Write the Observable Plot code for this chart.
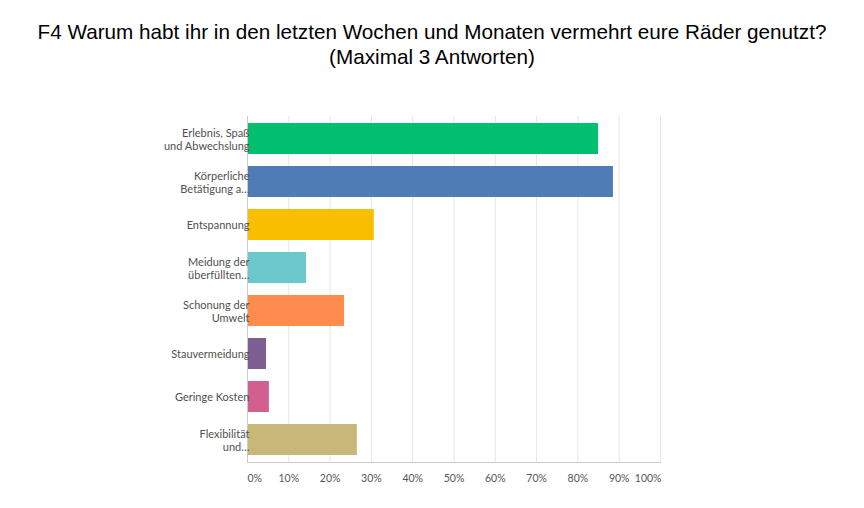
<!DOCTYPE html>
<html>
<head>
<meta charset="utf-8">
<script src="https://cdn.jsdelivr.net/npm/d3@7"></script>
<script src="https://cdn.jsdelivr.net/npm/@observablehq/plot@0.6"></script>
<style>
  body { margin: 0; background: #fff; }
  #title { height: 80px; box-sizing: border-box; padding-top: 19px; text-align: center;
    font-family: "Liberation Sans", Arial, sans-serif; font-size: 20.7px; line-height: 25px; color: #000; }
</style>
</head>
<body>
<div id="title">F4 Warum habt ihr in den letzten Wochen und Monaten vermehrt eure Räder genutzt?<br>(Maximal 3 Antworten)</div>
<div id="chart"></div>
<script>
const categories = [
  "Erlebnis, Spaß\nund Abwechslung",
  "Körperliche\nBetätigung a…",
  "Entspannung",
  "Meidung der\nüberfüllten…",
  "Schonung der\nUmwelt",
  "Stauvermeidung",
  "Geringe Kosten",
  "Flexibilität\nund…"
];
const values = [85.0, 88.6, 30.7, 14.3, 23.5, 4.6, 5.3, 26.6];
const colors = ["#00BF6F", "#507CB6", "#F9BE00", "#6BC8CD", "#FF8B4F", "#7D5E90", "#D25F90", "#C7B879"];
const xTicks = [0, 10, 20, 30, 40, 50, 60, 70, 80, 90, 100];
const tickLabels = xTicks.map(t => t + "%");

const data = categories.map((c, i) => ({category: c, value: values[i], color: colors[i]}));
const ticks = xTicks.map((t, i) => ({t, label: tickLabels[i]}));
const font = "Lato, 'Noto Sans', sans-serif";
const tickOpts = {x: "t", text: "label", frameAnchor: "bottom", dy: 19, fontSize: 10.5, fill: "#555"};

const chart = Plot.plot({
  width: 864,
  height: 428,
  marginTop: 36,
  marginBottom: 46,
  marginLeft: 247,
  marginRight: 204,
  style: {fontFamily: font, background: "#fff"},
  x: {domain: [0, 100], axis: null},
  y: {domain: categories, axis: null, paddingInner: 0.28, paddingOuter: 0.14},
  marks: [
    Plot.ruleX(xTicks.slice(1), {stroke: "#e6e6e6", strokeWidth: 1}),
    Plot.barX(data, {x: "value", y: "category", fill: "color"}),
    Plot.frame({anchor: "left", stroke: "#cccccc"}),
    Plot.frame({anchor: "bottom", stroke: "#cccccc"}),
    Plot.text(data, {x: 0, y: "category", text: "category", textAnchor: "end", dx: 2,
      fontSize: 11, fill: "#505050", lineHeight: 1.27}),
    Plot.text(ticks.filter(d => d.t === 0), {...tickOpts, textAnchor: "start"}),
    Plot.text(ticks.filter(d => d.t > 0 && d.t < 100), {...tickOpts, textAnchor: "middle"}),
    Plot.text(ticks.filter(d => d.t === 100), {...tickOpts, textAnchor: "end", dx: 1})
  ]
});
document.getElementById("chart").appendChild(chart);
</script>
</body>
</html>
